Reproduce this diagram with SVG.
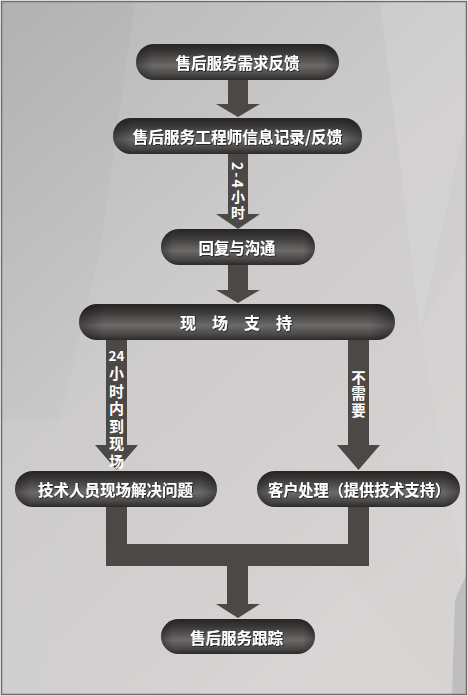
<svg xmlns="http://www.w3.org/2000/svg" width="468" height="696" viewBox="0 0 468 696">
  <defs>
    <linearGradient id="bg" x1="0" y1="0" x2="0.6" y2="1">
      <stop offset="0" stop-color="#b2b1b1"/>
      <stop offset="0.5" stop-color="#cac8c8"/>
      <stop offset="1" stop-color="#d3d1d0"/>
    </linearGradient>
    <linearGradient id="pill" x1="0" y1="0" x2="0" y2="1">
      <stop offset="0" stop-color="#272424"/>
      <stop offset="0.2" stop-color="#383535"/>
      <stop offset="0.6" stop-color="#6c6969"/>
      <stop offset="0.85" stop-color="#4a4747"/>
      <stop offset="1" stop-color="#2c2929"/>
    </linearGradient>
    <linearGradient id="pillEdge" x1="0" y1="0" x2="1" y2="0">
      <stop offset="0" stop-color="#000" stop-opacity="0.35"/>
      <stop offset="0.08" stop-color="#000" stop-opacity="0"/>
      <stop offset="0.92" stop-color="#000" stop-opacity="0"/>
      <stop offset="1" stop-color="#000" stop-opacity="0.35"/>
    </linearGradient>
    <filter id="sh" x="-10%" y="-30%" width="120%" height="160%">
      <feDropShadow dx="0.8" dy="0.8" stdDeviation="0.6" flood-color="#000" flood-opacity="0.7"/>
    </filter>
    <style>
      .pill { fill: url(#pill); }
      .edge { fill: url(#pillEdge); }
      .lbl { font-family: "Noto Sans CJK SC", "Noto Sans", sans-serif; font-weight: bold; font-size: 16px; fill: #ffffff; text-anchor: middle; dominant-baseline: central; filter: url(#sh); }
      .arr { fill: #4b4846; }
      .vt { font-family: "Noto Sans CJK SC", "Noto Sans", sans-serif; font-weight: bold; fill: #ffffff; writing-mode: vertical-rl; }
      .ht { font-family: "Noto Sans CJK SC", "Noto Sans", sans-serif; font-weight: bold; fill: #ffffff; text-anchor: middle; }
    </style>
  </defs>

  <!-- background -->
  <rect x="0" y="0" width="468" height="696" fill="#ffffff"/>
  <rect x="2" y="2" width="464" height="692" fill="url(#bg)"/>
  <polygon points="135,2 466,2 466,696 40,694 60,420 100,250" fill="#ffffff" opacity="0.07"/>
  <polygon points="380,2 466,2 466,120 420,330" fill="#ffffff" opacity="0.1"/>
  <polygon points="2,420 60,420 40,694 2,694" fill="#ffffff" opacity="0.06"/>
  <polygon points="420,330 466,250 466,590" fill="#ffffff" opacity="0.05"/>
  <polygon points="455,600 466,575 466,694 452,694" fill="#a4a2a6" opacity="0.45"/>
  <polygon points="200,694 330,560 450,694" fill="#ffffff" opacity="0.05"/>
  <rect x="1.5" y="1.5" width="465" height="693" fill="none" stroke="#6f6e6e" stroke-width="1.5"/>

  <!-- connectors -->
  <g id="connectors">
    <polygon class="arr" points="228,79 248,79 248,104 260,104 238,117 216,104 228,104"/>
    <polygon class="arr" points="228,153 248,153 248,214 260,214 238,229 216,214 228,214"/>
    <polygon class="arr" points="228,264 248,264 248,290 260,290 238,303 216,290 228,290"/>
    <polygon class="arr" points="106,339 127,339 127,445 138,445 116.5,470 95,445 106,445"/>
    <polygon class="arr" points="348,339 369,339 369,445 380,445 358.5,470 337,445 348,445"/>
    <polygon class="arr" points="106,505 127,505 127,544 348,544 348,505 369,505 369,566 248,566 248,604 260,604 238,618 216,604 227,604 227,566 106,566"/>
    <text class="vt" x="238" y="162" font-size="14" letter-spacing="2">2-4小时</text>
    <text class="ht" x="116.5" y="361" font-size="13.5">24</text>
    <text class="vt" x="116.5" y="366" font-size="15" letter-spacing="2.5">小时内到现场</text>
    <text class="vt" x="358.5" y="370" font-size="14.5" letter-spacing="2">不需要</text>
  </g>

  <!-- nodes -->
  <g id="n1">
    <rect class="pill" x="136" y="44" width="203" height="36" rx="18"/>
    <rect class="edge" x="136" y="44" width="203" height="36" rx="18"/>
    <text class="lbl" x="237.5" y="62" textLength="124" lengthAdjust="spacingAndGlyphs">售后服务需求反馈</text>
  </g>
  <g id="n2">
    <rect class="pill" x="113" y="118" width="249" height="36" rx="18"/>
    <rect class="edge" x="113" y="118" width="249" height="36" rx="18"/>
    <text class="lbl" x="237.5" y="136" textLength="210" lengthAdjust="spacingAndGlyphs">售后服务工程师信息记录/反馈</text>
  </g>
  <g id="n3">
    <rect class="pill" x="161" y="229" width="154" height="36" rx="18"/>
    <rect class="edge" x="161" y="229" width="154" height="36" rx="18"/>
    <text class="lbl" x="237" y="247" textLength="77" lengthAdjust="spacingAndGlyphs">回复与沟通</text>
  </g>
  <g id="n4">
    <rect class="pill" x="79" y="304" width="316" height="36" rx="18"/>
    <rect class="edge" x="79" y="304" width="316" height="36" rx="18"/>
    <text class="lbl" x="236" y="322" textLength="112" lengthAdjust="spacing">现 场 支 持</text>
  </g>
  <g id="n5">
    <rect class="pill" x="15" y="471" width="202" height="36" rx="18"/>
    <rect class="edge" x="15" y="471" width="202" height="36" rx="18"/>
    <text class="lbl" x="115.5" y="489" textLength="155" lengthAdjust="spacingAndGlyphs">技术人员现场解决问题</text>
  </g>
  <g id="n6">
    <rect class="pill" x="257" y="471" width="203" height="36" rx="18"/>
    <rect class="edge" x="257" y="471" width="203" height="36" rx="18"/>
    <text class="lbl" x="359" y="489" textLength="182" lengthAdjust="spacingAndGlyphs">客户处理（提供技术支持）</text>
  </g>
  <g id="n7">
    <rect class="pill" x="161" y="619" width="154" height="35" rx="17.5"/>
    <rect class="edge" x="161" y="619" width="154" height="35" rx="17.5"/>
    <text class="lbl" x="236.5" y="636.5" textLength="93" lengthAdjust="spacingAndGlyphs">售后服务跟踪</text>
  </g>
</svg>
